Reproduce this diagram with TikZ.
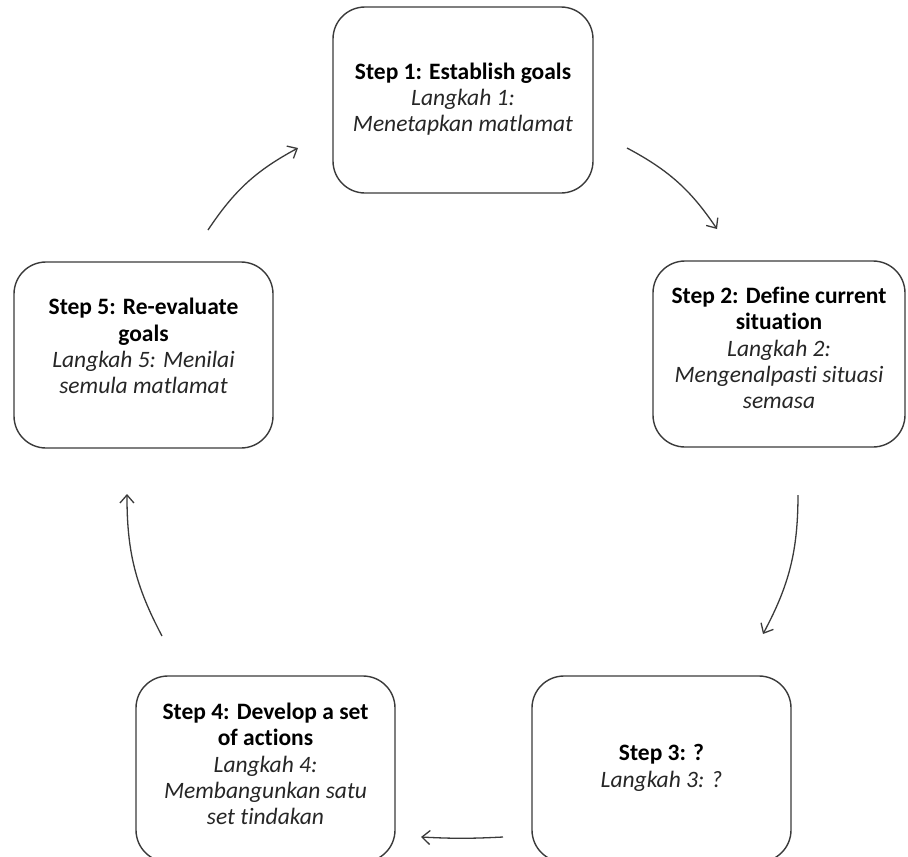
\documentclass[tikz,border=0pt]{standalone}
\usepackage{fontspec}
\setmainfont{Carlito}[Ligatures=NoCommon]
\usetikzlibrary{arrows.meta}
\definecolor{edge}{HTML}{3A3A3A}
\definecolor{ital}{HTML}{262626}
\tikzset{
  stepbox/.style={draw=edge, line width=1.4pt, rounded corners=32pt,
    minimum height=186pt, inner sep=0pt},
  steptext/.style={align=center, inner sep=0pt,
    font=\fontsize{23.5}{26.3}\selectfont},
  flow/.style={draw=edge, line width=1.3pt,
    -{Straight Barb[length=8pt,width=14pt,line width=1.3pt]}},
}
\newcommand{\stp}[1]{\textbf{#1}}
\newcommand{\lk}[1]{{\color{ital}\itshape #1}}
\begin{document}
\begin{tikzpicture}[x=1pt,y=-1pt]
\useasboundingbox (0,0) rectangle (908,857);
\clip (0,0) rectangle (908,857);
\node[stepbox, minimum width=260pt] (s1) at (463,100) {};
\node[stepbox, minimum width=252pt] (s2) at (779,354) {};
\node[stepbox, minimum width=259pt] (s3) at (661.5,769) {};
\node[stepbox, minimum width=259pt] (s4) at (265.5,769) {};
\node[stepbox, minimum width=259pt] (s5) at (143.5,355) {};
\node[steptext] (t1) at ([yshift=1pt]s1.center)
  {\stp{Step 1: Establish goals}\\ \lk{Langkah 1:}\\ \lk{Menetapkan matlamat}};
\node[steptext] (t2) at ([yshift=6pt]s2.center)
  {\stp{Step 2: Define current}\\ \stp{situation}\\ \lk{Langkah 2:}\\ \lk{Mengenalpasti situasi}\\ \lk{semasa}};
\node[steptext] (t3) at ([yshift=1pt]s3.center)
  {\stp{Step 3: ?}\\ \lk{Langkah 3: ?}};
\node[steptext] (t4) at ([yshift=5pt]s4.center)
  {\stp{Step 4: Develop a set}\\ \stp{of actions}\\ \lk{Langkah 4:}\\ \lk{Membangunkan satu}\\ \lk{set tindakan}};
\node[steptext] (t5) at ([yshift=9pt]s5.center)
  {\stp{Step 5: Re-evaluate}\\ \stp{goals}\\ \lk{Langkah 5: Menilai}\\ \lk{semula matlamat}};
\coordinate (a1s) at (627,148);
\coordinate (a1e) at (717,229);
\coordinate (a2s) at (798,495);
\coordinate (a2e) at (763,634);
\coordinate (a3s) at (503,837);
\coordinate (a3e) at (421,837);
\coordinate (a4s) at (162,636);
\coordinate (a4e) at (127,494);
\coordinate (a5s) at (208,230);
\coordinate (a5e) at (298,148);
\draw[flow] (a1s) to[bend left=14] (a1e);
\draw[flow] (a2s) to[bend left=14] (a2e);
\draw[flow] (a3s) to[bend left=3] (a3e);
\draw[flow] (a4s) to[bend left=14] (a4e);
\draw[flow] (a5s) to[bend left=14] (a5e);
\end{tikzpicture}
\end{document}
